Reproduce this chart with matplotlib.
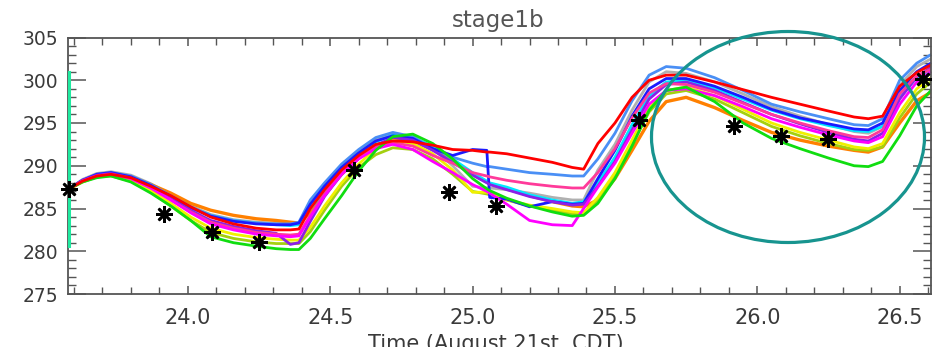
import matplotlib
matplotlib.use("Agg")
import matplotlib.pyplot as plt
from matplotlib.patches import Ellipse
from matplotlib.ticker import MultipleLocator

# ---------------- data ----------------
t = [23.583, 23.63, 23.68, 23.73, 23.80, 23.87, 23.94, 24.01, 24.08, 24.16, 24.24, 24.31, 24.36, 24.39,
     24.43, 24.48, 24.54, 24.60, 24.66, 24.72, 24.79, 24.86,
     24.93, 25.00, 25.05, 25.06, 25.12, 25.20, 25.28, 25.35, 25.39,
     25.44, 25.50, 25.56, 25.62, 25.68, 25.75, 25.85, 25.95, 26.05, 26.15, 26.25, 26.34, 26.39, 26.44,
     26.50, 26.56, 26.61]

grey = [287.3, 288.4, 289.1, 289.3, 288.9, 287.9, 286.6, 285.3, 284.3, 283.7, 283.4, 283.3, 283.2, 283.3,
        285.6, 287.7, 290.0, 291.7, 293.1, 293.7, 293.4, 292.0,
        290.0, 287.6, 287.4, 287.4, 287.2, 286.8, 286.3, 286.0, 286.0,
        289.5, 292.5, 296.5, 299.8, 301.0, 300.8, 299.8, 298.4, 296.9, 295.8, 294.8, 294.0, 293.8, 294.6,
        299.4, 301.6, 302.5]
orange = [287.3, 288.2, 288.8, 289.0, 288.7, 287.8, 286.8, 285.6, 284.8, 284.2, 283.8, 283.6, 283.4, 283.3,
          284.5, 286.6, 289.0, 290.9, 292.4, 293.0, 292.9, 291.9,
          290.6, 289.0, 288.1, 287.9, 287.3, 286.5, 285.8, 285.3, 285.2,
          286.0, 288.5, 291.8, 295.2, 297.5, 298.0, 296.8, 295.3, 293.9, 293.0, 292.3, 291.8, 291.6, 292.2,
          295.0, 297.6, 298.6]
olive = [287.3, 288.1, 288.7, 288.8, 288.2, 286.9, 285.3, 283.6, 282.2, 281.5, 281.1, 280.9, 280.9, 280.9,
         282.3, 284.8, 287.6, 289.8, 291.3, 292.1, 291.9, 290.8,
         289.0, 287.0, 286.7, 286.6, 286.0, 285.3, 284.8, 284.4, 284.4,
         286.0, 288.8, 292.5, 296.3, 298.4, 298.8, 297.8, 296.2, 294.6, 293.5, 292.6, 291.9, 291.8, 292.2,
         295.6, 298.4, 299.8]
yellow = [287.3, 288.1, 288.7, 288.9, 288.3, 287.1, 285.6, 284.0, 282.7, 282.0, 281.6, 281.4, 281.3, 281.3,
          282.8, 285.3, 288.0, 290.2, 292.0, 293.0, 292.6, 291.4,
          289.5, 286.9, 286.9, 286.8, 286.0, 285.4, 285.0, 284.6, 284.5,
          286.3, 289.2, 293.0, 296.8, 298.8, 299.2, 298.2, 296.6, 295.0, 293.9, 293.0, 292.2, 292.0, 292.6,
          296.2, 299.0, 300.3]
green = [287.3, 288.1, 288.6, 288.8, 288.1, 286.8, 285.3, 283.6, 281.7, 281.0, 280.6, 280.3, 280.2, 280.2,
         281.5, 283.8, 286.5, 289.4, 291.8, 293.4, 293.7, 292.6,
         290.8, 288.5, 287.3, 287.1, 286.2, 285.3, 284.6, 284.1, 284.2,
         285.6, 288.5, 292.3, 296.5, 298.8, 299.2, 297.5, 295.0, 293.2, 292.0, 290.9, 290.0, 289.9, 290.5,
         293.5, 297.0, 298.8]
cyan = [287.3, 288.3, 288.9, 289.1, 288.7, 287.7, 286.4, 285.1, 284.2, 283.6, 283.3, 283.1, 283.0, 283.1,
        285.0, 287.0, 289.4, 291.3, 292.8, 293.6, 293.3, 292.3,
        290.8, 289.2, 288.2, 288.0, 287.5, 286.6, 286.0, 285.6, 285.8,
        288.0, 291.0, 294.8, 298.2, 299.8, 300.0, 299.1, 297.8, 296.5, 295.5, 294.7, 294.1, 294.0, 294.6,
        298.0, 300.3, 301.2]
light_blue = [287.3, 288.3, 289.0, 289.2, 288.8, 287.8, 286.5, 285.2, 284.2, 283.6, 283.3, 283.2, 283.2, 283.4,
              286.0, 288.0, 290.2, 291.9, 293.3, 293.9, 293.4, 292.0,
              291.0, 290.3, 289.9, 289.9, 289.6, 289.2, 289.0, 288.8, 288.8,
              290.8, 293.8, 297.6, 300.6, 301.6, 301.4, 300.3, 298.8, 297.2, 296.3, 295.5, 294.8, 294.7, 295.5,
              300.0, 302.0, 303.0]
blue = [287.3, 288.3, 289.0, 289.2, 288.7, 287.7, 286.4, 285.1, 284.1, 283.5, 283.2, 283.1, 283.1, 283.3,
        285.5, 287.6, 289.8, 291.5, 292.9, 293.5, 293.2, 292.0,
        291.2, 291.9, 291.8, 286.3, 286.1, 285.2, 285.8, 285.5, 285.6,
        288.5, 291.8, 295.8, 299.0, 300.2, 300.2, 299.3, 298.0, 296.6, 295.6, 294.9, 294.3, 294.2, 295.0,
        298.8, 301.0, 302.0]
purple = [287.3, 288.3, 288.9, 289.1, 288.6, 287.5, 286.2, 284.8, 283.6, 282.9, 282.4, 282.1, 280.8, 281.0,
          283.5, 286.4, 289.0, 290.9, 292.4, 293.3, 293.0, 291.8,
          290.4, 288.9, 288.0, 287.8, 287.2, 286.4, 285.8, 285.4, 285.5,
          287.6, 290.5, 294.2, 297.8, 299.5, 299.8, 298.8, 297.4, 296.0, 294.9, 293.9, 293.1, 292.9, 293.8,
          297.8, 300.4, 301.5]
pink = [287.3, 288.2, 288.8, 289.0, 288.5, 287.4, 286.0, 284.6, 283.4, 282.7, 282.2, 282.0, 281.9, 282.0,
        284.2, 286.7, 289.2, 291.0, 292.2, 292.7, 292.3, 291.2,
        290.3, 289.2, 288.8, 288.7, 288.3, 287.9, 287.6, 287.4, 287.4,
        289.2, 292.0, 295.6, 298.5, 299.6, 299.5, 298.6, 297.3, 296.0, 295.0, 294.1, 293.4, 293.3, 294.2,
        298.4, 300.5, 301.3]
magenta = [287.3, 288.2, 288.8, 289.0, 288.5, 287.4, 286.0, 284.5, 283.2, 282.5, 282.0, 281.8, 281.7, 281.8,
           284.0, 286.5, 289.0, 290.8, 292.0, 292.5, 291.9, 290.5,
           289.2, 287.8, 287.0, 286.8, 285.5, 283.6, 283.1, 283.0, 285.0,
           287.5, 290.3, 293.8, 297.2, 298.8, 299.0, 298.2, 296.9, 295.5, 294.5, 293.6, 292.9, 292.7, 293.4,
           297.2, 299.8, 301.0]
red = [287.3, 288.2, 288.8, 289.0, 288.6, 287.6, 286.5, 285.2, 284.0, 283.2, 282.7, 282.5, 282.5, 282.6,
       285.0, 287.2, 289.5, 291.2, 292.5, 292.9, 292.8, 292.4,
       291.9, 291.8, 291.6, 291.6, 291.4, 290.9, 290.4, 289.8, 289.6,
       292.6, 295.0, 298.0, 300.0, 300.6, 300.6, 299.8, 298.9, 298.0, 297.2, 296.4, 295.7, 295.5, 295.8,
       299.3, 300.9, 301.8]

init_t = [23.583, 23.583]
init_spread = [280.6, 301.0]

obs_t = [23.583, 23.917, 24.083, 24.250, 24.583, 24.917, 25.083, 25.583, 25.917, 26.083, 26.250, 26.583]
obs_v = [287.3, 284.4, 282.2, 281.1, 289.5, 286.9, 285.3, 295.4, 294.6, 293.5, 293.1, 300.2]

xticks = [24.0, 24.5, 25.0, 25.5, 26.0, 26.5]
xticklabels = ["24.0", "24.5", "25.0", "25.5", "26.0", "26.5"]
yticks = [275, 280, 285, 290, 295, 300, 305]

title = "stage1b"
xlabel = "Time (August 21st, CDT)"

# ---------------- plot ----------------
W, H = 946, 347
fig = plt.figure(figsize=(W / 100, H / 100), dpi=100)
ax = fig.add_axes([68 / W, 1 - 294 / H, (931 - 68) / W, (294 - 37.5) / H])

series = [
    (grey, "#b0b0b0", 2.0),
    (orange, "#ff8000", 2.4),
    (olive, "#a4d010", 2.0),
    (yellow, "#f0f000", 2.0),
    (cyan, "#00e8ff", 2.0),
    (light_blue, "#4a8ff5", 2.0),
    (blue, "#1a1aff", 2.0),
    (purple, "#8a20e8", 2.0),
    (pink, "#ff3a9a", 2.0),
    (magenta, "#ff00ff", 2.0),
    (green, "#10dd10", 2.0),
    (red, "#ff0000", 2.0),
]
for vals, col, lw in series:
    ax.plot(t, vals, color=col, lw=lw, solid_joinstyle="round", solid_capstyle="round")

ax.plot(init_t, init_spread, color="#20eaa0", lw=2.2, clip_on=False, zorder=5)
ax.plot(obs_t, obs_v, linestyle="none", marker=(8, 2, 0), markersize=12,
        markeredgewidth=1.9, color="black", clip_on=False, zorder=6)

ax.set_xlim(23.579, 26.61)
ax.set_ylim(275, 305)
ax.set_xticks(xticks)
ax.set_xticklabels(xticklabels)
ax.set_yticks(yticks)
ax.xaxis.set_minor_locator(MultipleLocator(0.1))
ax.yaxis.set_minor_locator(MultipleLocator(1))

frame_col = "#555555"
for s in ax.spines.values():
    s.set_color(frame_col)
    s.set_linewidth(1.3)
ax.tick_params(axis="both", which="both", direction="in", top=True, right=True, color=frame_col)
ax.tick_params(axis="x", which="major", length=6, width=1.1, labelsize=15, pad=10, labelcolor="#3a3a3a")
ax.tick_params(axis="x", which="minor", length=5, width=1.0)
ax.tick_params(axis="y", which="major", length=13, width=1.1, labelsize=13.5, pad=7, labelcolor="#3a3a3a")
ax.tick_params(axis="y", which="minor", length=6, width=1.0)

fig.text(498 / W, 1 - 27 / H, title, ha="center", va="baseline", fontsize=16.5, color="#555555")
fig.text(496 / W, -3 / H, xlabel, ha="center", va="baseline", fontsize=15, color="#3a3a3a")

ell = Ellipse((788 / W, 1 - 137 / H), 273 / W, 211 / H, transform=fig.transFigure,
              fill=False, edgecolor="#17948f", linewidth=2.3, zorder=10)
fig.add_artist(ell)

fig.savefig("out.png", dpi=100)
